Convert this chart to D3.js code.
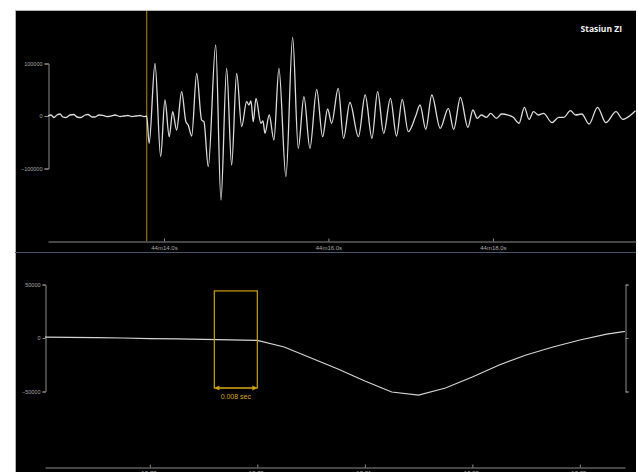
<!DOCTYPE html>
<html>
<head>
<meta charset="utf-8">
<script src="https://cdn.jsdelivr.net/npm/d3@7"></script>
<style>
  html, body { margin: 0; padding: 0; background: #ffffff; }
  svg { display: block; }
  .axis text { font-family: "Liberation Sans", Arial, sans-serif; fill: #a8a8a8; }
  .axis path, .axis line { stroke: #8c8c8c; }
</style>
</head>
<body>
<svg id="chart" width="638" height="472"></svg>
<script>
// ---- Station record: full trace (time in seconds after 44m, counts) ----
const traceTime = [
  12.590, 12.626, 12.663, 12.699, 12.736, 12.772, 12.809, 12.857, 12.906, 12.942,
  12.991, 13.040, 13.076, 13.125, 13.161, 13.210, 13.258, 13.307, 13.356, 13.404,
  13.465, 13.514, 13.562, 13.611, 13.660, 13.708, 13.757, 13.790,
  13.820, 13.891, 13.960, 14.012, 14.064, 14.106, 14.154, 14.215, 14.267, 14.295,
  14.337, 14.398, 14.458, 14.486, 14.539, 14.629, 14.693, 14.762, 14.823, 14.884,
  14.945, 15.005, 15.033, 15.058, 15.086, 15.119, 15.179, 15.204, 15.228, 15.280,
  15.337, 15.398, 15.483, 15.565, 15.633, 15.702, 15.775, 15.857, 15.929, 15.990,
  16.039, 16.119, 16.184, 16.261, 16.365, 16.447, 16.529, 16.598, 16.672, 16.754,
  16.828, 16.897, 16.971, 17.061, 17.114, 17.184, 17.257, 17.359, 17.458, 17.523,
  17.605, 17.696, 17.757, 17.810, 17.859, 17.921, 17.973, 18.044, 18.105, 18.187,
  18.248, 18.317, 18.383, 18.440, 18.494, 18.554, 18.616, 18.719, 18.800, 18.862,
  18.943, 19.005, 19.080, 19.170, 19.272, 19.374, 19.497, 19.578, 19.661, 19.734
];
const traceValue = [
  0, 1900, -2900, 1900, 3800, -1900, -2900, 1900, 2900, -1900,
  -2900, 1900, 2900, -1900, -1900, 1900, 1000, -1000, 0, 1900,
  -1000, 0, 1000, -1000, 0, 1000, -1000, 0,
  -52000, 100000, -77500, 30500, -39400, 8200, -26700, 46300, -10900, -17100,
  -38100, 81300, -7600, -10900, -96600, 135300, -160000, 90900, -93300, 81300,
  -20400, 27200, 21000, 28600, -10900, 33700, -13900, -9500, -33000, 1900,
  -45700, 90900, -115600, 149900, -61500, 36800, -61500, 50900, -39400, 13300,
  -13900, 52800, -42500, 25700, -39400, 40000, -42500, 46300, -33000, 33700,
  -38100, 31800, -29900, 0, 21000, -25300, 40000, -23400, 14700, -25300,
  35600, -21500, 11400, -4400, 1900, -2500, 5100, -4400, 3800, 1900,
  -2500, -13900, 16600, -6300, 8200, 1900, 5100, -12800, -2500, -2500,
  10100, 1900, 3800, -15200, 16600, -12800, 8200, -6300, 0, 10100
];

// ---- Close-up around the first arrival (200 samples per second) ----
const zoomTime = [
  13.750, 13.755, 13.760, 13.765, 13.770, 13.775, 13.780, 13.785, 13.790,
  13.795, 13.800, 13.805, 13.810, 13.815, 13.820, 13.825, 13.830, 13.835,
  13.840, 13.845, 13.850, 13.855, 13.860
];
const zoomValue = [
  800, 600, 300, 0, -500, -900, -1200, -1700, -2300,
  -8400, -18700, -29000, -40200, -50500, -53300, -46700, -36400, -25200,
  -15900, -8400, -1900, 3700, 7500
];

// ---- Axes, ticks and annotation values ----
const stationName = "Stasiun ZI";
const topDomain = [12.590, 19.740];
const topTicks = [14, 16, 18];
const topYTicks = [-100000, 0, 100000];
const zoomDomain = [13.7505, 13.8584];
const zoomTicks = [13.77, 13.79, 13.81, 13.83, 13.85];
const zoomYTicks = [-50000, 0, 50000];
const arrivalTime = 13.790;
const windowLength = 0.008;      // seconds marked before the arrival
const windowAmplitude = [-43000, 44000];

const svg = d3.select("#chart");

// dark plotting panel with light frame on the top and left edges
svg.append("rect").attr("x", 15).attr("y", 10).attr("width", 621).attr("height", 462).attr("fill", "#000");
svg.append("line").attr("x1", 15.5).attr("x2", 15.5).attr("y1", 10).attr("y2", 472).attr("stroke", "#b4b4b4");
svg.append("line").attr("x1", 15).attr("x2", 636).attr("y1", 10.5).attr("y2", 10.5).attr("stroke", "#b4b4b4");

// ================= upper panel =================
const xTop = d3.scaleLinear().domain(topDomain).range([48, 636]);
const yTop = d3.scaleLinear().domain([-100000, 100000]).range([168.5, 63.5]);

svg.append("g").attr("class", "axis").attr("transform", "translate(0,241.5)")
  .call(d3.axisBottom(xTop).tickValues(topTicks).tickSizeInner(-3).tickSizeOuter(0).tickPadding(4)
    .tickFormat(t => "44m" + t.toFixed(1) + "s"))
  .call(g => g.selectAll("text").attr("font-size", 6));

svg.append("g").attr("class", "axis").attr("transform", "translate(48.5,0)")
  .call(d3.axisLeft(yTop).tickValues(topYTicks).tickSize(4).tickPadding(2).tickFormat(d3.format("d")))
  .call(g => g.selectAll("text").attr("font-size", 5.5));

// arrival marker
svg.append("line")
  .attr("x1", xTop(arrivalTime)).attr("x2", xTop(arrivalTime))
  .attr("y1", 11).attr("y2", 241)
  .attr("stroke", "#8a6a14").attr("stroke-width", 1.3);

const topLine = d3.line()
  .x((d, i) => xTop(traceTime[i]))
  .y(d => yTop(d))
  .curve(d3.curveMonotoneX);

svg.append("path")
  .attr("d", topLine(traceValue))
  .attr("fill", "none").attr("stroke", "#dcdcdc").attr("stroke-width", 1.3);

svg.append("text")
  .attr("x", 622).attr("y", 32)
  .attr("text-anchor", "end")
  .attr("font-family", "'Open Sans', 'Liberation Sans', sans-serif")
  .attr("font-weight", "bold").attr("font-size", 8.5)
  .attr("fill", "#f2f2f2")
  .text(stationName);

// panel separator
svg.append("line").attr("x1", 15).attr("x2", 636).attr("y1", 252.5).attr("y2", 252.5)
  .attr("stroke", "#46566a").attr("stroke-width", 1);

// ================= lower panel =================
const xZoom = d3.scaleLinear().domain(zoomDomain).range([45, 625]);
const yZoom = d3.scaleLinear().domain([-50000, 50000]).range([391.5, 284.5]);

svg.append("g").attr("class", "axis").attr("transform", "translate(0,467.5)")
  .call(d3.axisBottom(xZoom).tickValues(zoomTicks).tickSizeInner(-3).tickSizeOuter(0).tickPadding(3)
    .tickFormat(t => t.toFixed(2) + "s"))
  .call(g => g.selectAll("text").attr("font-size", 6));

svg.append("g").attr("class", "axis").attr("transform", "translate(45.5,0)")
  .call(d3.axisLeft(yZoom).tickValues(zoomYTicks).tickSize(3).tickPadding(2).tickFormat(d3.format("d")))
  .call(g => g.selectAll("text").attr("font-size", 5.5));

svg.append("g").attr("class", "axis").attr("transform", "translate(625.5,0)")
  .call(d3.axisRight(yZoom).tickValues(zoomYTicks).tickSize(3).tickFormat(""));

svg.append("clipPath").attr("id", "zoom-clip")
  .append("rect").attr("x", 45).attr("y", 260).attr("width", 580).attr("height", 200);

const zoomLine = d3.line()
  .x((d, i) => xZoom(zoomTime[i]))
  .y(d => yZoom(d));

svg.append("path")
  .attr("clip-path", "url(#zoom-clip)")
  .attr("d", zoomLine(zoomValue))
  .attr("fill", "none").attr("stroke", "#d4d4d4").attr("stroke-width", 1.2);

// window before the arrival with its length
const gold = "#c9a010";
const wx0 = xZoom(arrivalTime - windowLength), wx1 = xZoom(arrivalTime);
const wy0 = yZoom(windowAmplitude[1]), wy1 = yZoom(windowAmplitude[0]);
svg.append("rect")
  .attr("x", wx0).attr("y", wy0).attr("width", wx1 - wx0).attr("height", wy1 - wy0 + 4)
  .attr("fill", "none").attr("stroke", gold).attr("stroke-width", 1.2);

const ay = wy1 + 4;
svg.append("line").attr("x1", wx0 + 2).attr("x2", wx1 - 2).attr("y1", ay).attr("y2", ay)
  .attr("stroke", gold).attr("stroke-width", 1.2);
svg.append("path")
  .attr("d", `M${wx0},${ay}l5,-2.5v5z M${wx1},${ay}l-5,-2.5v5z`)
  .attr("fill", gold);

svg.append("text")
  .attr("x", (wx0 + wx1) / 2).attr("y", ay + 10.5)
  .attr("text-anchor", "middle")
  .attr("font-family", "'Liberation Sans', Arial, sans-serif")
  .attr("font-size", 7).attr("fill", "#d9a820")
  .text(windowLength.toFixed(3) + " sec");
</script>
</body>
</html>
